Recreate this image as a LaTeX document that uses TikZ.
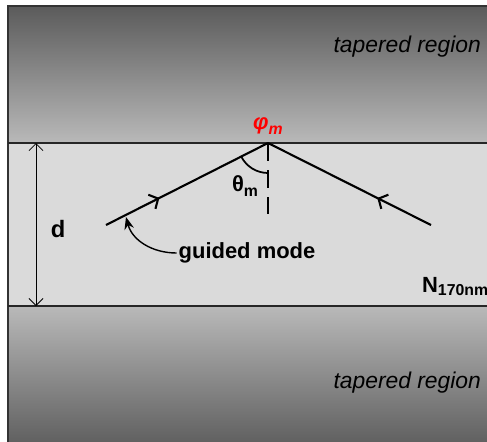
\documentclass[tikz,border=0pt]{standalone}
\usepackage{fontspec}
\setmainfont{Liberation Sans}
\usepackage{xcolor}
\usetikzlibrary{arrows.meta, positioning, calc, decorations.markings}
\definecolor{taperdark}{HTML}{5B5B5B}
\definecolor{taperlight}{HTML}{B9B9B9}
\definecolor{corefill}{HTML}{DADADA}
\definecolor{phired}{HTML}{FF0000}

\begin{document}
\begin{tikzpicture}[x=0.02cm, y=0.02cm,
    boundary/.style={line width=0.8pt, black!85},
    rayline/.style={line width=1.2pt},
    raymark/.style={postaction={decorate, decoration={markings,
        mark=at position 0.33 with {\arrow{Straight Barb[length=4pt, width=9pt]}}}}},
    lbl/.style={font=\fontsize{12.5}{14}\selectfont\bfseries, inner sep=1pt},
    taper/.style={font=\fontsize{13}{15}\selectfont\itshape, inner sep=1pt}]
    \useasboundingbox (0,0) rectangle (487,441);
    \clip (0,0) rectangle (487,441);

    % Layers
    \shade[top color=taperdark, bottom color=taperlight] (8,298) rectangle (500,435);
    \fill[corefill] (8,135) rectangle (500,298);
    \shade[top color=taperlight, bottom color=taperdark] (8,-10) rectangle (500,135);
    \draw[line width=0.6pt, black!80] (8,-10) -- (8,435) -- (500,435);
    \draw[boundary] (8,298) -- (500,298);
    \draw[boundary] (8,135) -- (500,135);

    % Thickness
    \coordinate (dtop) at (36,298);
    \coordinate (dbot) at (36,135);
    \draw[line width=0.5pt, {Straight Barb[length=4pt, width=8pt]}-{Straight Barb[length=4pt, width=8pt]}] (dtop) -- (dbot);
    \node[lbl, font=\fontsize{13.5}{15}\selectfont\bfseries] (dlabel) at (58,212) {d};

    % Guided ray
    \coordinate (rayleft) at (106,216);
    \coordinate (apex) at (268,298);
    \coordinate (rayright) at (431,216);
    \draw[rayline, raymark] (rayleft) -- (apex);
    \draw[rayline, raymark] (rayright) -- (apex);
    \draw[rayline, dash pattern=on 10pt off 5.5pt] (apex) -- ++(0,-71);
    \draw[line width=1pt] ($(apex)+(206.85:30)$) arc[start angle=206.85, end angle=270, radius=30];

    \node[lbl] (theta) at (245,255) {θ\raisebox{-0.45ex}{\fontsize{9}{10}\selectfont m}};
    \node[lbl, phired, font=\fontsize{12.5}{14}\selectfont\bfseries\itshape] (phi) at (268,315) {φ\raisebox{-0.4ex}{\fontsize{9}{10}\selectfont m}};

    % Guided mode pointer
    \node[lbl] (guided) at (247,188) {guided mode};
    \coordinate (modetip) at (126,224);
    \draw[line width=0.8pt, -{Stealth[length=7pt, width=5.5pt]}] (guided.west) to[out=180, in=-75] (modetip);

    \node[lbl, anchor=base west] (index) at (420,149) {N\raisebox{-0.3ex}{\fontsize{9}{10}\selectfont 170nm}};

    \node[taper, anchor=east] (tapertop) at (483,394) {tapered region};
    \node[taper, anchor=east] (taperbot) at (483,58) {tapered region};
\end{tikzpicture}
\end{document}
